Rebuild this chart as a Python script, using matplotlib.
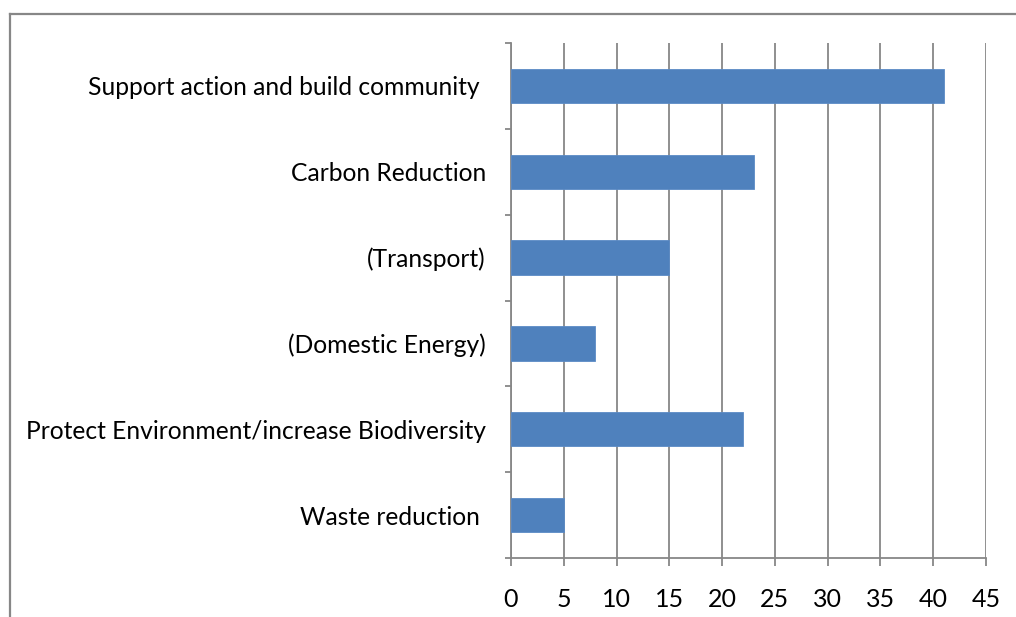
import numpy as np
import matplotlib.pyplot as plt
from matplotlib.lines import Line2D
from matplotlib.ticker import FixedLocator

# ---------------- Data ----------------
categories = [
    "Support action and build community ",
    "Carbon Reduction",
    "(Transport)",
    "(Domestic Energy)",
    "Protect Environment/increase Biodiversity",
    "Waste reduction ",
]
values = [41, 23, 15, 8, 22, 5]
x_ticks = [0, 5, 10, 15, 20, 25, 30, 35, 40, 45]

BAR_COLOR = "#4F81BD"
GRID_COLOR = "#878787"

plt.rcParams["font.family"] = ["Lato", "DejaVu Sans"]

fig = plt.figure(figsize=(10.16, 6.17), dpi=100)
ax = fig.add_axes([511 / 1016, 59 / 617, 475 / 1016, 515 / 617])

# top category first
y = np.arange(len(categories))[::-1]
ax.barh(y, values, height=0.4, color=BAR_COLOR, edgecolor="#5B8BC6", linewidth=0.6, zorder=3)

ax.set_xlim(0, 45)
ax.set_ylim(-0.5, len(categories) - 0.5)

ax.set_xticks(x_ticks)
ax.set_xticklabels([str(t) for t in x_ticks], fontsize=18)
ax.set_yticks(y)
ax.set_yticklabels(categories, fontsize=17.7)
ax.yaxis.set_minor_locator(FixedLocator(np.arange(-0.5, len(categories), 1.0)))

ax.tick_params(axis="y", which="major", length=0, pad=18)
ax.tick_params(axis="y", which="minor", length=4.5, width=1.3, color=GRID_COLOR, direction="out")
ax.tick_params(axis="x", length=5.5, width=1.3, color=GRID_COLOR, direction="out", pad=16)

ax.grid(axis="x", color=GRID_COLOR, linewidth=1.3, zorder=0)
for side in ["top", "right"]:
    ax.spines[side].set_visible(False)
for side in ["left", "bottom"]:
    ax.spines[side].set_color(GRID_COLOR)
    ax.spines[side].set_linewidth(1.3)

# outer chart border (cropped: only top and left visible)
top_y = 1 - 14 / 617
left_x = 9.5 / 1016
fig.add_artist(Line2D([left_x, 1], [top_y, top_y], transform=fig.transFigure,
                      color=GRID_COLOR, linewidth=1.6))
fig.add_artist(Line2D([left_x, left_x], [0, top_y], transform=fig.transFigure,
                      color=GRID_COLOR, linewidth=1.6))

plt.savefig("out.png", dpi=100, facecolor="white")
